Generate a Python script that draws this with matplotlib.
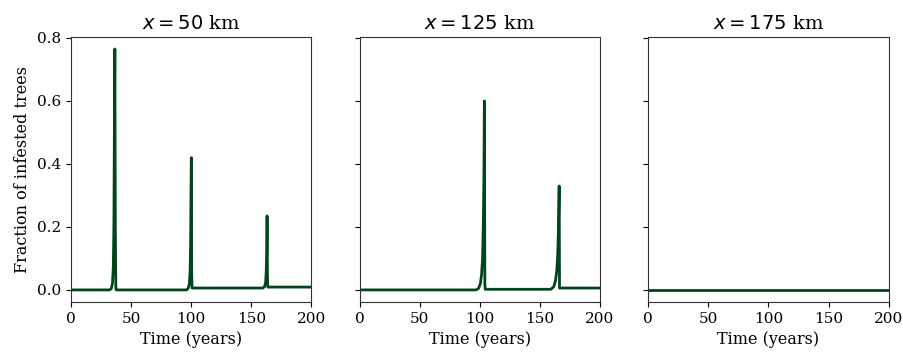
import numpy as np
import matplotlib
matplotlib.use("Agg")
import matplotlib.pyplot as plt

plt.rcParams['font.family'] = 'serif'
plt.rcParams['axes.edgecolor'] = '#333333'

positions = [50, 125, 175]

# hand-read points (time in years, fraction of infested trees)
t_50 = [0, 32.0, 33.5, 34.5, 35.2, 35.7, 36.1, 36.5, 36.9, 37.3, 37.6,
        96.0, 97.5, 98.5, 99.1, 99.5, 99.8, 100.1, 100.4, 100.7,
        159.5, 161.0, 161.9, 162.4, 162.8, 163.1, 163.4, 163.7, 200]
f_50 = [0, 0.0, 0.004, 0.02, 0.07, 0.2, 0.5, 0.765, 0.2, 0.01, 0.0,
        0.0, 0.005, 0.02, 0.06, 0.14, 0.3, 0.42, 0.05, 0.006,
        0.006, 0.01, 0.025, 0.06, 0.12, 0.235, 0.05, 0.009, 0.009]

t_125 = [0, 97.0, 99.0, 100.5, 101.5, 102.3, 102.9, 103.4, 103.8, 104.2, 104.5,
         159.0, 161.5, 163.0, 164.0, 164.8, 165.3, 165.7, 166.0, 166.3, 200]
f_125 = [0, 0.0, 0.005, 0.02, 0.05, 0.1, 0.2, 0.35, 0.6, 0.02, 0.002,
         0.002, 0.01, 0.03, 0.06, 0.11, 0.18, 0.26, 0.33, 0.006, 0.006]

t_175 = [0, 200]
f_175 = [0, 0]

series = [(t_50, f_50), (t_125, f_125), (t_175, f_175)]

fig, axes = plt.subplots(1, 3, figsize=(9.04, 3.56), sharey=True)
fig.subplots_adjust(left=0.0785, right=0.983, top=0.896, bottom=0.152, wspace=0.2)

for ax, x, (t, f) in zip(axes, positions, series):
    ax.plot(t, f, color='#00441b', lw=2)
    ax.set_xlim(0, 200)
    ax.set_title(f'$x = {x}$ km', fontsize=14)
    ax.set_xlabel('Time (years)', fontsize=11.5)
    ax.set_xticks([0, 50, 100, 150, 200])
    ax.tick_params(labelsize=11)

axes[0].set_ylim(-0.038, 0.803)
axes[0].set_yticks([0.0, 0.2, 0.4, 0.6, 0.8])
axes[0].set_ylabel('Fraction of infested trees', fontsize=11.5)

fig.savefig('out.png', dpi=100)
